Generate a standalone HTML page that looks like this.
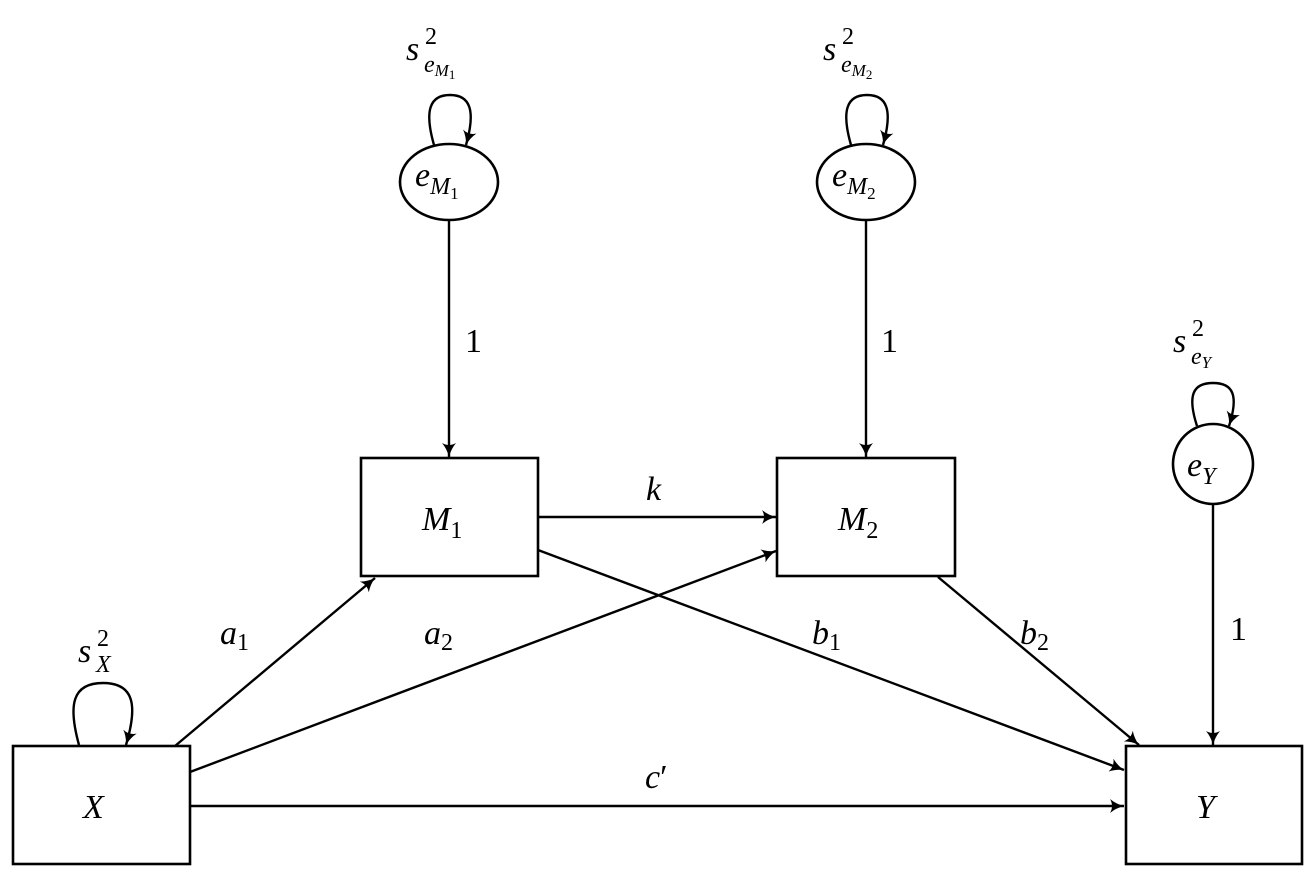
<!DOCTYPE html>
<html><head><meta charset="utf-8"><style>
html,body{margin:0;padding:0;background:#fff;}
svg{display:block;}
text{font-family:"Liberation Serif",serif;font-style:italic;fill:#000;}
.n{font-style:normal;}
</style></head><body>
<svg width="1316" height="879" viewBox="0 0 1316 879" xmlns="http://www.w3.org/2000/svg">
<defs>
<marker id="a" markerWidth="16" markerHeight="14" refX="14" refY="7" orient="auto" markerUnits="userSpaceOnUse">
<path d="M0,0 Q6,5 14,7 Q6,9 0,14 Q4,7 0,0 Z" fill="#000"/>
</marker>
</defs>
<g fill="none" stroke="#000" stroke-width="2.6">
<rect x="13" y="746" width="177" height="118"/>
<rect x="1126" y="746" width="176" height="118"/>
<rect x="361" y="458" width="177" height="118"/>
<rect x="777" y="458" width="178" height="118"/>
<ellipse cx="449" cy="182" rx="49" ry="38"/>
<ellipse cx="866" cy="182" rx="49" ry="38"/>
<circle cx="1213" cy="464" r="40"/>
</g>
<g fill="none" stroke="#000" stroke-width="2.4" marker-end="url(#a)">
<line x1="449" y1="220" x2="449" y2="457"/>
<line x1="866" y1="220" x2="866" y2="457"/>
<line x1="1213" y1="504" x2="1213" y2="745"/>
<line x1="538" y1="517" x2="776" y2="517"/>
<line x1="175" y1="746" x2="375" y2="578"/>
<line x1="190" y1="772" x2="776" y2="551"/>
<line x1="538" y1="550" x2="1124" y2="770"/>
<line x1="938" y1="577" x2="1139" y2="745"/>
<line x1="190" y1="806" x2="1124" y2="806"/>
<path d="M79,745 C68,705 72,683 103,683 C134,683 138,705 126,745"/>
<path d="M434,145 C424,110 430,95 450,95 C470,95 476,110 466,145"/>
<path d="M851,145 C841,110 847,95 867,95 C887,95 893,110 883,145"/>
<path d="M1197,426 C1187,395 1193,383 1213,383 C1233,383 1239,395 1229,426"/>
</g>
<g font-size="34">
<text x="83" y="818">X</text>
<text x="1196" y="818">Y</text>
<text x="422" y="530">M<tspan class="n" font-size="24" dy="8">1</tspan></text>
<text x="838" y="530">M<tspan class="n" font-size="24" dy="8">2</tspan></text>
<text x="415" y="186">e<tspan font-size="24" dy="8">M</tspan><tspan class="n" font-size="17" dy="5">1</tspan></text>
<text x="832" y="186">e<tspan font-size="24" dy="8">M</tspan><tspan class="n" font-size="17" dy="5">2</tspan></text>
<text x="1187" y="476">e<tspan font-size="24" dy="8">Y</tspan></text>
<text class="n" x="465" y="352">1</text>
<text class="n" x="881" y="352">1</text>
<text class="n" x="1230" y="640">1</text>
<text x="646" y="500">k</text>
<text x="220" y="644">a<tspan class="n" font-size="24" dy="6">1</tspan></text>
<text x="424" y="644">a<tspan class="n" font-size="24" dy="6">2</tspan></text>
<text x="812" y="644">b<tspan class="n" font-size="24" dy="6">1</tspan></text>
<text x="1020" y="644">b<tspan class="n" font-size="24" dy="6">2</tspan></text>
<text x="645" y="788">c<tspan class="n">′</tspan></text>
<text x="78" y="662">s</text>
<text class="n" x="97" y="646" font-size="24">2</text>
<text x="96" y="672" font-size="24">X</text>
<text x="406" y="60">s</text>
<text class="n" x="425" y="44" font-size="24">2</text>
<text x="424" y="72" font-size="24">e<tspan font-size="17" dy="4">M</tspan><tspan class="n" font-size="13" dy="3">1</tspan></text>
<text x="823" y="60">s</text>
<text class="n" x="842" y="44" font-size="24">2</text>
<text x="841" y="72" font-size="24">e<tspan font-size="17" dy="4">M</tspan><tspan class="n" font-size="13" dy="3">2</tspan></text>
<text x="1173" y="352">s</text>
<text class="n" x="1192" y="336" font-size="24">2</text>
<text x="1191" y="364" font-size="24">e<tspan font-size="17" dy="4">Y</tspan></text>
</g>
</svg>
</body></html>
